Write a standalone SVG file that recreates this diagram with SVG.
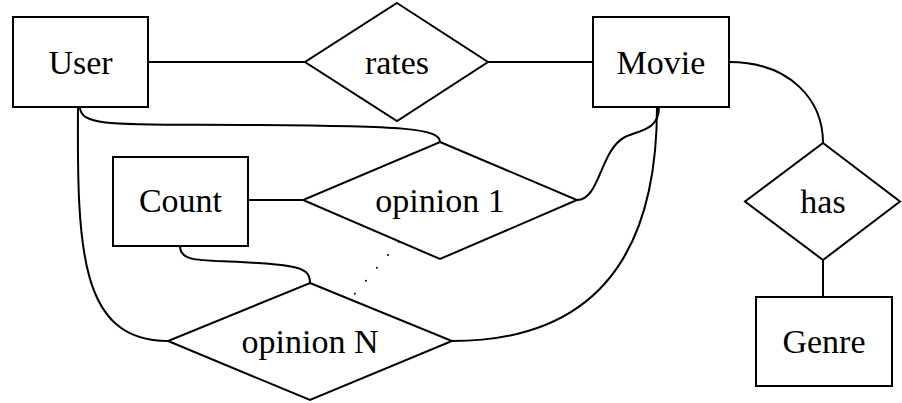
<svg xmlns="http://www.w3.org/2000/svg" width="902" height="403" viewBox="0 0 902 403">
  <style>
    .shape { fill: #fff; stroke: #000; stroke-width: 2; }
    .edge { fill: none; stroke: #000; stroke-width: 2; }
    .dots { fill: none; stroke: #000; stroke-width: 2; stroke-linecap: round; stroke-dasharray: 0 17; }
    text { font-family: "Liberation Serif", "Times New Roman", serif; font-size: 34px; text-anchor: middle; fill: #000; }
  </style>
  <rect width="902" height="403" fill="#fff"/>
  <g id="connectors">
    <path class="edge" d="M148,62 L305,62"/>
    <path class="edge" d="M488,62 L593,62"/>
    <path class="edge" d="M729,62 C790,62 823,100 823,143"/>
    <path class="edge" d="M823,260 L823,297"/>
    <path class="edge" d="M248,200 L303,200"/>
    <path class="edge" d="M80,107 C80,128 120,124 260,125 C400,126 440,128 440,142"/>
    <path class="edge" d="M78,107 C77,250 80,341 168,341"/>
    <path class="edge" d="M180,246 C180,262 200,260 240,262 C300,265 310,268 310,283"/>
    <path class="edge" d="M659,107 C659,130 640,130 625,137 C600,150 600,200 577,200"/>
    <path class="edge" d="M657,107 C657,250 600,341 452,341"/>
    <path class="dots" d="M399,242 L352,297"/>
  </g>
  <g id="user">
    <rect class="shape" x="13" y="17" width="135" height="90"/>
    <text x="80.5" y="74">User</text>
  </g>
  <g id="rates">
    <polygon class="shape" points="397,3 488,62 397,121 305,62"/>
    <text x="397" y="74">rates</text>
  </g>
  <g id="movie">
    <rect class="shape" x="593" y="17" width="136" height="90"/>
    <text x="661" y="74">Movie</text>
  </g>
  <g id="has">
    <polygon class="shape" points="823,143 900,201.5 823,260 745,201.5"/>
    <text x="823" y="213">has</text>
  </g>
  <g id="genre">
    <rect class="shape" x="756" y="297" width="136" height="89"/>
    <text x="824" y="353">Genre</text>
  </g>
  <g id="count">
    <rect class="shape" x="113" y="157" width="135" height="89"/>
    <text x="180.5" y="212">Count</text>
  </g>
  <g id="opinion1">
    <polygon class="shape" points="440,142 577,200 440,259 303,200"/>
    <text x="440" y="212">opinion 1</text>
  </g>
  <g id="opinionN">
    <polygon class="shape" points="310,283 452,341 310,400 168,341"/>
    <text x="310" y="353">opinion N</text>
  </g>
</svg>
